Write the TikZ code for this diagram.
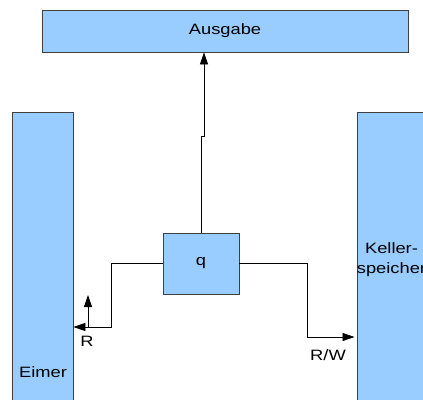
\documentclass[tikz,border=0pt]{standalone}
\usepackage{fontspec}
\setmainfont{Liberation Sans}[FakeStretch=1.22]
\usetikzlibrary{arrows.meta, positioning, calc}
\definecolor{skyblue}{HTML}{99CCFF}
\tikzset{
  block/.style={rectangle,draw=black!75,fill=skyblue,line width=0.8pt,
    inner sep=0pt,font=\fontsize{15}{20}\selectfont},
  arrow/.style={-{Triangle[length=12pt,width=8pt]},line width=0.8pt,draw=black},
  lbl/.style={font=\fontsize{15}{20}\selectfont,inner sep=0pt}
}

\begin{document}
\begin{tikzpicture}[x=1pt,y=-1pt]
  \useasboundingbox (0,0) rectangle (423,399);

  \node[block, minimum width=366pt, minimum height=42pt] (ausgabe)
    at (225,31) {Ausgabe};
  \node[block, minimum width=61pt, minimum height=296pt] (eimer)
    at (42.5,260) {};
  \node[lbl] (eimertext) at (43,372) {Eimer};
  \node[block, minimum width=61pt, minimum height=296pt, align=center]
    (keller) at (391.5,260) {Keller-\\speicher};
  \node[block, minimum width=76pt, minimum height=61pt] (q)
    at (201,263.5) {q};

  \coordinate (jog) at (204,136);
  \coordinate (rbend) at (111,327);
  \coordinate (rup) at (88,295);
  \coordinate (wbend) at (307,337);

  \draw[arrow] (q.north) |- (jog) -- (jog |- ausgabe.south);
  \draw[arrow] (q.west) -| (rbend) -- (rbend -| eimer.east);
  \draw[arrow] (rup |- rbend) -- (rup);
  \draw[arrow, shorten >=2pt] (q.east) -| (wbend) -- (wbend -| keller.west);

  \node[lbl] (rlabel) at (87,341) {R};
  \node[lbl] (rwlabel) at (328,355) {R/W};
\end{tikzpicture}
\end{document}
